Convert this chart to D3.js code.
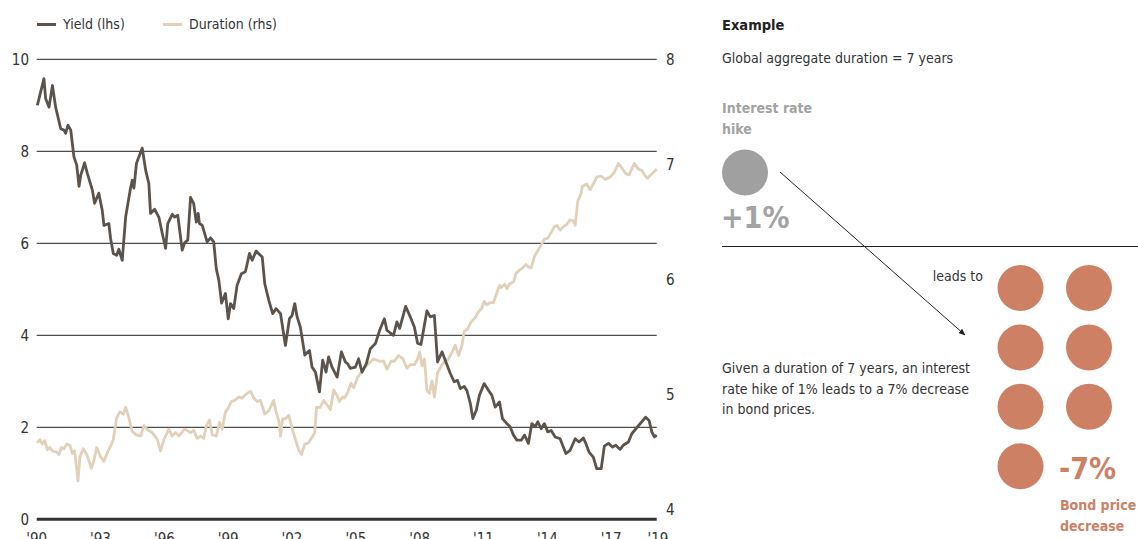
<!DOCTYPE html>
<html>
<head>
<meta charset="utf-8">
<script src="https://cdn.jsdelivr.net/npm/d3@7"></script>
<style>
  body { margin: 0; background: #fff; }
  svg text { font-family: "Liberation Sans Narrow", "DejaVu Sans Condensed", "Liberation Sans", sans-serif; fill: #333; }
</style>
</head>
<body>
<div id="chart"></div>
<script>
// yield (lhs, %) as [year, value]
const yieldSeries = [
  [1990.03,9.00],[1990.34,9.58],[1990.42,9.15],[1990.58,8.96],[1990.74,9.43],[1990.89,8.96],[1991.13,8.49],[1991.28,8.46],
  [1991.36,8.39],[1991.47,8.57],[1991.60,8.46],[1991.75,7.88],[1991.88,7.70],[1991.99,7.24],[1992.07,7.48],[1992.25,7.75],
  [1992.38,7.52],[1992.62,7.15],[1992.72,6.87],[1992.92,7.09],[1993.08,6.72],[1993.16,6.39],[1993.39,6.43],[1993.47,6.11],
  [1993.60,5.78],[1993.76,5.74],[1993.86,5.87],[1994.02,5.63],[1994.18,6.57],[1994.41,7.20],[1994.49,7.37],[1994.57,7.20],
  [1994.69,7.74],[1994.96,8.07],[1995.12,7.59],[1995.27,7.30],[1995.35,6.65],[1995.54,6.74],[1995.74,6.57],[1995.90,6.22],
  [1996.06,5.89],[1996.16,6.43],[1996.37,6.63],[1996.48,6.57],[1996.63,6.61],[1996.84,5.85],[1996.95,6.01],[1997.10,6.07],
  [1997.23,7.00],[1997.38,6.86],[1997.50,6.46],[1997.59,6.65],[1997.65,6.43],[1997.78,6.39],[1997.85,6.28],[1998.01,6.03],
  [1998.17,6.12],[1998.32,6.03],[1998.44,5.45],[1998.56,5.20],[1998.69,4.70],[1998.87,4.91],[1999.00,4.36],[1999.11,4.69],
  [1999.26,4.58],[1999.42,5.09],[1999.62,5.34],[1999.81,5.38],[2000.00,5.78],[2000.13,5.63],[2000.31,5.83],[2000.60,5.70],
  [2000.72,5.12],[2000.91,4.76],[2001.09,4.47],[2001.25,4.58],[2001.46,4.47],[2001.69,3.78],[2001.88,4.36],[2002.00,4.43],
  [2002.13,4.69],[2002.24,4.40],[2002.39,4.18],[2002.60,3.57],[2002.82,3.67],[2002.94,3.31],[2003.10,3.20],[2003.29,2.77],
  [2003.44,3.46],[2003.60,3.20],[2003.72,3.53],[2003.88,3.31],[2004.12,3.09],[2004.32,3.64],[2004.51,3.42],[2004.62,3.38],
  [2004.74,3.28],[2004.98,3.31],[2005.13,3.49],[2005.29,3.20],[2005.49,3.38],[2005.68,3.71],[2005.92,3.82],[2006.12,4.11],
  [2006.34,4.36],[2006.46,4.11],[2006.62,4.05],[2006.77,4.00],[2006.93,4.29],[2007.06,4.15],[2007.34,4.63],[2007.56,4.40],
  [2007.75,4.18],[2007.90,3.83],[2008.06,3.80],[2008.18,4.11],[2008.34,4.53],[2008.50,4.40],[2008.69,4.43],[2008.84,3.42],
  [2009.05,3.64],[2009.25,3.40],[2009.44,3.17],[2009.62,2.99],[2009.78,3.02],[2009.91,2.84],[2010.09,2.89],[2010.22,2.80],
  [2010.38,2.52],[2010.50,2.19],[2010.66,2.37],[2010.81,2.70],[2011.03,2.95],[2011.24,2.80],[2011.39,2.70],[2011.55,2.44],
  [2011.75,2.55],[2011.89,2.19],[2012.10,2.08],[2012.25,2.01],[2012.41,1.83],[2012.57,1.72],[2012.77,1.72],[2012.93,1.83],
  [2013.11,1.65],[2013.27,2.08],[2013.43,2.01],[2013.55,2.12],[2013.71,1.97],[2013.86,2.08],[2014.02,1.90],[2014.18,1.93],
  [2014.37,1.79],[2014.60,1.75],[2014.87,1.43],[2015.07,1.50],[2015.31,1.75],[2015.49,1.68],[2015.69,1.77],[2015.81,1.65],
  [2015.96,1.46],[2016.16,1.35],[2016.32,1.10],[2016.53,1.10],[2016.68,1.59],[2016.87,1.65],[2017.06,1.57],[2017.22,1.61],
  [2017.42,1.52],[2017.57,1.61],[2017.81,1.68],[2017.97,1.86],[2018.20,1.99],[2018.44,2.12],[2018.62,2.22],[2018.78,2.15],
  [2018.91,1.90],[2019.03,1.79],[2019.14,1.83]
];

// duration (rhs, years) as [year, value]
const durationSeries = [
  [1990.03,4.58],[1990.15,4.61],[1990.27,4.57],[1990.38,4.60],[1990.50,4.52],[1990.62,4.54],[1990.74,4.51],[1990.94,4.50],
  [1991.05,4.48],[1991.16,4.54],[1991.28,4.53],[1991.41,4.57],[1991.56,4.56],[1991.68,4.49],[1991.78,4.51],[1991.94,4.25],
  [1992.03,4.46],[1992.19,4.53],[1992.35,4.48],[1992.57,4.36],[1992.69,4.43],[1992.82,4.54],[1993.00,4.46],[1993.16,4.42],
  [1993.35,4.51],[1993.47,4.55],[1993.60,4.61],[1993.76,4.80],[1993.91,4.85],[1994.07,4.83],[1994.18,4.89],[1994.33,4.80],
  [1994.49,4.68],[1994.69,4.65],[1994.88,4.64],[1995.04,4.73],[1995.23,4.69],[1995.43,4.67],[1995.67,4.61],[1995.82,4.51],
  [1995.98,4.61],[1996.21,4.70],[1996.37,4.64],[1996.53,4.67],[1996.68,4.64],[1996.95,4.70],[1997.23,4.67],[1997.38,4.69],
  [1997.54,4.62],[1997.70,4.64],[1997.85,4.62],[1997.97,4.73],[1998.12,4.78],[1998.25,4.65],[1998.44,4.64],[1998.59,4.76],
  [1998.72,4.70],[1998.87,4.85],[1999.00,4.88],[1999.15,4.94],[1999.31,4.95],[1999.50,4.98],[1999.66,4.97],[1999.81,5.00],
  [2000.05,5.03],[2000.20,4.97],[2000.36,4.94],[2000.52,4.95],[2000.72,4.83],[2000.91,4.86],[2001.14,4.95],[2001.25,4.85],
  [2001.38,4.77],[2001.46,4.64],[2001.56,4.79],[2001.69,4.79],[2001.85,4.82],[2002.00,4.71],[2002.16,4.61],[2002.31,4.52],
  [2002.44,4.48],[2002.60,4.57],[2002.76,4.58],[2002.91,4.62],[2003.07,4.67],[2003.15,4.89],[2003.33,4.89],[2003.49,4.95],
  [2003.65,4.91],[2003.80,4.87],[2003.96,5.04],[2004.12,4.99],[2004.23,4.94],[2004.38,4.98],[2004.46,4.97],[2004.62,5.02],
  [2004.77,5.10],[2004.90,5.06],[2005.08,5.15],[2005.24,5.19],[2005.40,5.23],[2005.60,5.27],[2005.84,5.31],[2006.12,5.29],
  [2006.31,5.29],[2006.46,5.22],[2006.65,5.29],[2006.81,5.29],[2007.01,5.34],[2007.22,5.31],[2007.40,5.23],[2007.56,5.26],
  [2007.75,5.26],[2007.90,5.31],[2008.00,5.37],[2008.11,5.25],[2008.22,5.31],[2008.34,5.04],[2008.46,5.01],[2008.58,5.12],
  [2008.69,4.98],[2008.84,5.19],[2009.05,5.26],[2009.20,5.29],[2009.36,5.31],[2009.52,5.37],[2009.67,5.43],[2009.83,5.34],
  [2009.99,5.43],[2010.09,5.55],[2010.25,5.57],[2010.41,5.63],[2010.61,5.67],[2010.77,5.72],[2010.92,5.75],[2011.03,5.81],
  [2011.16,5.78],[2011.31,5.80],[2011.47,5.80],[2011.60,5.87],[2011.75,5.95],[2011.83,5.93],[2011.99,5.96],[2012.10,5.92],
  [2012.21,5.96],[2012.41,5.98],[2012.52,6.05],[2012.68,6.08],[2012.83,6.10],[2012.99,6.13],[2013.11,6.11],[2013.24,6.10],
  [2013.39,6.20],[2013.55,6.25],[2013.74,6.31],[2013.86,6.35],[2014.02,6.36],[2014.18,6.41],[2014.33,6.46],[2014.45,6.47],
  [2014.60,6.43],[2014.76,6.46],[2014.92,6.48],[2015.07,6.52],[2015.23,6.51],[2015.31,6.47],[2015.43,6.68],[2015.59,6.75],
  [2015.65,6.81],[2015.85,6.83],[2016.01,6.78],[2016.16,6.83],[2016.32,6.89],[2016.53,6.90],[2016.71,6.87],[2016.95,6.89],
  [2017.15,6.93],[2017.34,7.01],[2017.50,6.97],[2017.69,6.92],[2017.84,6.91],[2018.09,7.01],[2018.28,6.96],[2018.44,6.95],
  [2018.56,6.91],[2018.70,6.88],[2018.87,6.91],[2019.03,6.94],[2019.14,6.96]
];

const yieldTicks = [0, 2, 4, 6, 8, 10];
const durationTicks = [4, 5, 6, 7, 8];
const xTickYears = [1990, 1993, 1996, 1999, 2002, 2005, 2008, 2011, 2014, 2017, 2019.2];
const xTickLabels = ["'90", "'93", "'96", "'99", "'02", "'05", "'08", "'11", "'14", "'17", "'19"];
const legendLabels = ["Yield (lhs)", "Duration (rhs)"];

// example panel values
const globalDuration = 7;   // years
const rateHike = 1;         // percentage points
const priceDrop = rateHike * globalDuration;

const colors = { yield: "#5c534c", duration: "#e2d0b9", hike: "#a3a3a3", drop: "#cd8064", grid: "#222" };
const fs = "14px";

const W = 1138, H = 539;
const svg = d3.select("#chart").append("svg")
  .attr("width", W)
  .attr("height", H);

// scales
const x = d3.scaleLinear().domain([1990, 2019.14]).range([36.7, 656.7]);
const yL = d3.scaleLinear().domain([0, 10]).range([519.3, 59.3]);
const yR = d3.scaleLinear().domain([4, 8]).range([509.7, 49.4]);

// gridlines
svg.append("g").selectAll("line")
  .data(yieldTicks)
  .join("line")
  .attr("x1", x.range()[0])
  .attr("x2", x.range()[1])
  .attr("y1", d => yL(d))
  .attr("y2", d => yL(d))
  .attr("stroke", d => d === 0 ? "#333" : colors.grid)
  .attr("stroke-width", d => d === 0 ? 3 : 1);

// left axis labels
svg.append("g").selectAll("text")
  .data(yieldTicks)
  .join("text")
  .attr("x", 29)
  .attr("y", d => yL(d))
  .attr("dy", "0.35em")
  .attr("text-anchor", "end")
  .style("font-size", "15px")
  .text(d => d);

// right axis labels (top one kept inside the plot)
svg.append("g").selectAll("text")
  .data(durationTicks)
  .join("text")
  .attr("x", 666)
  .attr("y", d => Math.max(yR(d), yL(10)))
  .attr("dy", "0.35em")
  .style("font-size", "15px")
  .text(d => d);

// x labels (cut off at the bottom edge, as in the source)
svg.append("g").selectAll("text")
  .data(xTickYears)
  .join("text")
  .attr("x", d => x(d))
  .attr("y", 544)
  .attr("text-anchor", "middle")
  .style("font-size", "15px")
  .text((d, i) => xTickLabels[i]);

// lines
const lineL = d3.line().x(d => x(d[0])).y(d => yL(d[1]));
const lineR = d3.line().x(d => x(d[0])).y(d => yR(d[1]));

svg.append("path")
  .datum(durationSeries)
  .attr("d", lineR)
  .attr("fill", "none")
  .attr("stroke", colors.duration)
  .attr("stroke-width", 2.8)
  .attr("stroke-linejoin", "round");

svg.append("path")
  .datum(yieldSeries)
  .attr("d", lineL)
  .attr("fill", "none")
  .attr("stroke", colors.yield)
  .attr("stroke-width", 2.8)
  .attr("stroke-linejoin", "round");

// legend
const legend = svg.append("g").selectAll("g")
  .data(legendLabels)
  .join("g")
  .attr("transform", (d, i) => "translate(" + (37 + i * 126) + ",24.5)");

legend.append("line")
  .attr("x1", 0).attr("x2", 19)
  .attr("stroke", (d, i) => i === 0 ? colors.yield : colors.duration)
  .attr("stroke-width", 3);

legend.append("text")
  .attr("x", 26)
  .attr("dy", "0.35em")
  .style("font-size", fs)
  .text(d => d);

// example panel
const ex = svg.append("g");

ex.append("text").attr("x", 722).attr("y", 30)
  .style("font-size", "14.5px").style("font-weight", "bold").style("fill", "#222")
  .text("Example");

ex.append("text").attr("x", 722).attr("y", 63)
  .style("font-size", fs)
  .text("Global aggregate duration = " + globalDuration + " years");

ex.selectAll(".hikeLabel")
  .data(["Interest rate", "hike"])
  .join("text")
  .attr("class", "hikeLabel")
  .attr("x", 722)
  .attr("y", (d, i) => 113 + i * 20.5)
  .style("font-size", fs).style("font-weight", "bold").style("fill", colors.hike)
  .text(d => d);

ex.selectAll(".hikeDot")
  .data(d3.range(rateHike))
  .join("circle")
  .attr("class", "hikeDot")
  .attr("cx", 745)
  .attr("cy", 172.5)
  .attr("r", 23)
  .attr("fill", "#a0a0a0");

ex.append("text").attr("x", 721).attr("y", 228)
  .style("font-size", "30px").style("font-weight", "bold").style("fill", colors.hike)
  .text("+" + rateHike + "%");

ex.append("line")
  .attr("x1", 722).attr("x2", W)
  .attr("y1", 246.5).attr("y2", 246.5)
  .attr("stroke", colors.grid).attr("stroke-width", 1);

svg.append("defs").append("marker")
  .attr("id", "arrow")
  .attr("viewBox", "0 0 10 10")
  .attr("refX", 9).attr("refY", 5)
  .attr("markerWidth", 7).attr("markerHeight", 7)
  .attr("orient", "auto")
  .append("path")
  .attr("d", "M0,1 L10,5 L0,9 z")
  .attr("fill", "#222");

ex.append("line")
  .attr("x1", 780).attr("y1", 172)
  .attr("x2", 965).attr("y2", 335)
  .attr("stroke", "#222").attr("stroke-width", 1)
  .attr("marker-end", "url(#arrow)");

ex.append("text").attr("x", 983).attr("y", 280.5)
  .attr("text-anchor", "end")
  .style("font-size", fs)
  .text("leads to");

ex.selectAll(".dropDot")
  .data(d3.range(priceDrop))
  .join("circle")
  .attr("class", "dropDot")
  .attr("cx", d => 1020.5 + (d % 2) * 68.5)
  .attr("cy", d => 288 + Math.floor(d / 2) * 59.4)
  .attr("r", 23)
  .attr("fill", colors.drop);

ex.append("text").attr("x", 1059).attr("y", 479)
  .style("font-size", "30px").style("font-weight", "bold").style("fill", colors.drop)
  .text("-" + priceDrop + "%");

ex.selectAll(".dropLabel")
  .data(["Bond price", "decrease"])
  .join("text")
  .attr("class", "dropLabel")
  .attr("x", 1060)
  .attr("y", (d, i) => 510 + i * 20.5)
  .style("font-size", fs).style("font-weight", "bold").style("fill", colors.drop)
  .text(d => d);

ex.selectAll(".note")
  .data([
    "Given a duration of " + globalDuration + " years, an interest",
    "rate hike of " + rateHike + "% leads to a " + priceDrop + "% decrease",
    "in bond prices."
  ])
  .join("text")
  .attr("class", "note")
  .attr("x", 722)
  .attr("y", (d, i) => 373 + i * 20.5)
  .style("font-size", fs)
  .text(d => d);
</script>
</body>
</html>
